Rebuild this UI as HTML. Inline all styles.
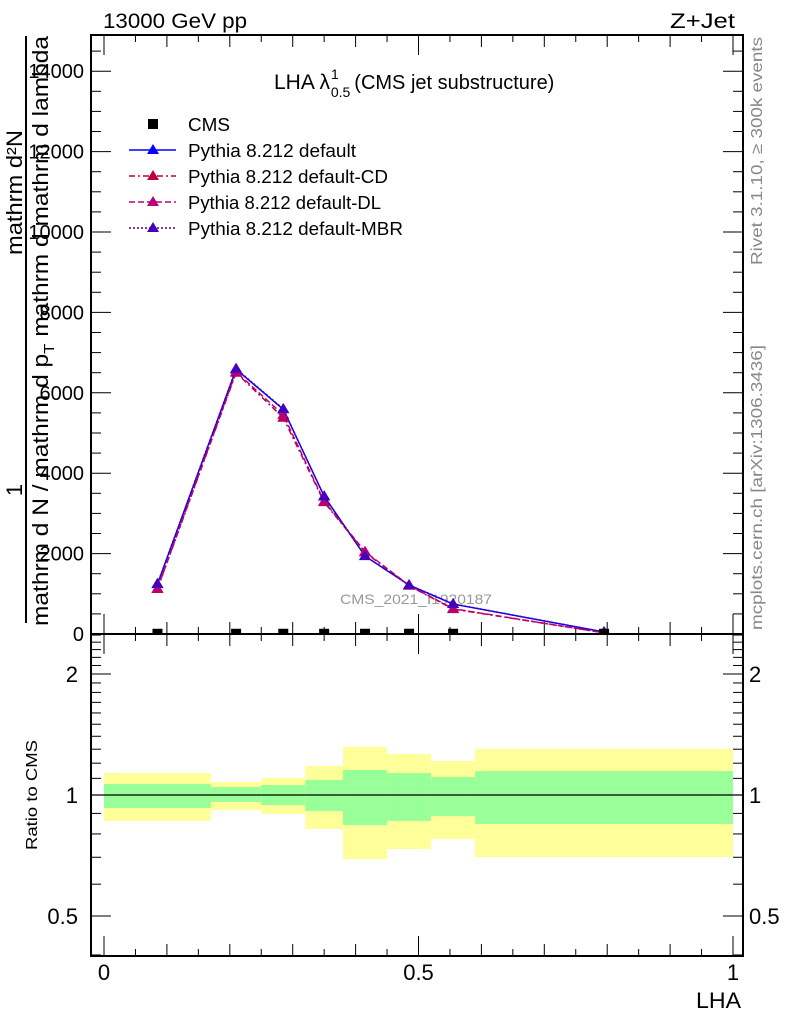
<!DOCTYPE html>
<html><head><meta charset="utf-8"><style>
body{margin:0;background:#fff}
svg{display:block;font-family:"Liberation Sans",sans-serif}
</style></head><body>
<svg id="c" width="786" height="1024" viewBox="0 0 786 1024" xmlns="http://www.w3.org/2000/svg">
<g id="g"></g>
</svg>
<script>
const categories=[0.085,0.21,0.285,0.35,0.415,0.485,0.555,0.795];
const binEdges=[0,0.17,0.25,0.32,0.38,0.45,0.52,0.59,1.0];
const cmsValues=[6,6,6,6,6,6,6,6];
const defaultValues=[1242,6584,5590,3429,1938,1217,745,50];
const cdValues=[1120,6500,5380,3280,2030,1200,620,30];
const dlValues=[1130,6520,5450,3300,2050,1210,630,30];
const mbrValues=[1250,6600,5600,3420,1940,1220,750,50];
const yTicks=[0,2000,4000,6000,8000,10000,12000,14000];
const yellowHi=[1.134,1.077,1.102,1.181,1.317,1.265,1.215,1.302];
const yellowLo=[0.862,0.918,0.897,0.823,0.693,0.734,0.777,0.701];
const greenHi=[1.065,1.047,1.059,1.090,1.154,1.134,1.109,1.147];
const greenLo=[0.928,0.961,0.944,0.912,0.842,0.862,0.886,0.847];
const ratioTicks=[0.5,1,2];
const xTicks=[0,0.5,1];

const NS="http://www.w3.org/2000/svg";
const g=document.getElementById('g');
const L=91,R=743,T=35,MB=634,RB=956;
const X=v=>104+v*629;
const Y=v=>634-v/2000*80.4;
const RY=v=>795-Math.log2(v)*121;
function el(tag,attrs,parent){const e=document.createElementNS(NS,tag);for(const k in attrs)e.setAttribute(k,attrs[k]);(parent||g).appendChild(e);return e;}
function txt(s,attrs,parent){const e=el('text',attrs,parent);e.textContent=s;return e;}

const defs=el('defs',{});
const cp=el('clipPath',{id:'mc'},defs);el('rect',{x:L,y:T,width:R-L,height:MB-T},cp);

let t=txt('13000 GeV pp',{x:103,y:28,'font-size':21,textLength:144,lengthAdjust:'spacingAndGlyphs'});

t=txt('Z+Jet',{x:670,y:28,'font-size':21,textLength:65,lengthAdjust:'spacingAndGlyphs'});


const bands=el('g',{});

for(let i=0;i<categories.length;i++){
  const x0=X(binEdges[i]),x1=X(binEdges[i+1]);
  let r=el('rect',{x:x0,y:RY(yellowHi[i]),width:x1-x0,height:RY(yellowLo[i])-RY(yellowHi[i]),fill:'#ffff99'},bands);
  
  r=el('rect',{x:x0,y:RY(greenHi[i]),width:x1-x0,height:RY(greenLo[i])-RY(greenHi[i]),fill:'#99ff99'},bands);
  
}
let ln=el('line',{x1:L,x2:R,y1:RY(1),y2:RY(1),stroke:'#000','stroke-width':1.2});


let f=el('rect',{x:L,y:T,width:R-L,height:MB-T,fill:'none',stroke:'#000','stroke-width':2});

f=el('rect',{x:L,y:MB,width:R-L,height:RB-MB,fill:'none',stroke:'#000','stroke-width':2});


const axg=el('g',{stroke:'#000','stroke-width':1});
for(let k=0;k<=20;k++){
  const v=k*0.05,x=X(v);const big=(k%10===0)?20:(k%2===0?12:7);
  el('line',{x1:x,x2:x,y1:T,y2:T+big},axg);
  el('line',{x1:x,x2:x,y1:MB,y2:MB-big},axg);
  el('line',{x1:x,x2:x,y1:MB,y2:MB+big},axg);
  el('line',{x1:x,x2:x,y1:RB,y2:RB-big},axg);
}
for(let v=0;v<=14500;v+=500){
  const y=Y(v);if(y<T)continue;const big=(v%2000===0)?20:10;
  el('line',{x1:L,x2:L+big,y1:y,y2:y},axg);
  el('line',{x1:R,x2:R-big,y1:y,y2:y},axg);
}
yTicks.forEach(v=>{const tl=txt(String(v),{x:84,y:Y(v)+7,'font-size':20,'text-anchor':'end'});
});
for(let k=4;k<=25;k++){
  const v=k/10,y=RY(v);if(y<MB||y>RB)continue;const big=ratioTicks.includes(v)?20:10;
  el('line',{x1:L,x2:L+big,y1:y,y2:y},axg);
  el('line',{x1:R,x2:R-big,y1:y,y2:y},axg);
}
ratioTicks.forEach(v=>{
  let tl=txt(String(v),{x:78,y:RY(v)+8,'font-size':22,'text-anchor':'end'});
  
  tl=txt(String(v),{x:749,y:RY(v)+8,'font-size':22});
  
});
xTicks.forEach(v=>{const tl=txt(String(v),{x:X(v),y:980,'font-size':22,'text-anchor':'middle'});
});
t=txt('LHA',{x:696,y:1008,'font-size':22,textLength:45,lengthAdjust:'spacingAndGlyphs'});

t=txt('Ratio to CMS',{x:0,y:0,'font-size':16,textLength:110,lengthAdjust:'spacingAndGlyphs',transform:'translate(37,850) rotate(-90)'});


const yt=el('g',{fill:'#000'});

txt('mathrm d²N',{x:0,y:0,'font-size':22,textLength:125,lengthAdjust:'spacingAndGlyphs',transform:'translate(22,255) rotate(-90)'},yt);
txt('1',{x:0,y:0,'font-size':22,'text-anchor':'middle',transform:'translate(22,490) rotate(-90)'},yt);
el('line',{x1:26,x2:26,y1:36,y2:623,stroke:'#000','stroke-width':2},yt);
const yt2=el('text',{x:0,y:0,'font-size':22,textLength:590,lengthAdjust:'spacingAndGlyphs',transform:'translate(48,626) rotate(-90)'},yt);
yt2.innerHTML='mathrm d N / mathrm d p<tspan font-size="15" dy="6">T</tspan><tspan dy="-6"> mathrm d mathrm d lambda</tspan>';

t=txt('Rivet 3.1.10, ≥ 300k events',{x:0,y:0,'font-size':16,fill:'#888',textLength:228,lengthAdjust:'spacingAndGlyphs',transform:'translate(762,265) rotate(-90)'});

t=txt('mcplots.cern.ch [arXiv:1306.3436]',{x:0,y:0,'font-size':16,fill:'#888',textLength:285,lengthAdjust:'spacingAndGlyphs',transform:'translate(762,630) rotate(-90)'});

t=txt('CMS_2021_I1920187',{x:340,y:604,'font-size':14,fill:'#999',textLength:152,lengthAdjust:'spacingAndGlyphs'});


const ti=el('text',{x:274,y:89,'font-size':21});

ti.innerHTML='LHA λ<tspan font-size="14" dy="-10" dx="1">1</tspan><tspan font-size="14" dy="18" dx="-8">0.5</tspan><tspan font-size="20" dy="-8" dx="4">(CMS jet substructure)</tspan>';

const series=[
 {name:'default',vals:defaultValues,color:'#0000ff',dash:'',label:'Pythia 8.212 default'},
 {name:'cd',vals:cdValues,color:'#bb0044',dash:'6,3,2,3',label:'Pythia 8.212 default-CD'},
 {name:'dl',vals:dlValues,color:'#bb0077',dash:'6,3',label:'Pythia 8.212 default-DL'},
 {name:'mbr',vals:mbrValues,color:'#4400bb',dash:'2,2',label:'Pythia 8.212 default-MBR'}
];
function tri(x,y,c,parent){return el('path',{d:`M${x},${y-6}L${x+6},${y+4}L${x-6},${y+4}Z`,fill:c},parent);}
const plot=el('g',{'clip-path':'url(#mc)'});
series.forEach(s=>{
  const sg=el('g',{},plot);
  
  const pts=s.vals.map((v,i)=>X(categories[i])+','+Y(v)).join(' ');
  const pl=el('polyline',{points:pts,fill:'none',stroke:s.color,'stroke-width':1.5,'stroke-dasharray':s.dash},sg);
  
  s.vals.forEach((v,i)=>{const m=tri(X(categories[i]),Y(v),s.color,sg);
    });
});
const cg=el('g',{},plot);

cmsValues.forEach((v,i)=>{const r=el('rect',{x:X(categories[i])-5,y:Y(v)-5,width:10,height:10,fill:'#000'},cg);
  });

const lg=el('g',{});

let le=el('g',{},lg);
el('rect',{x:148,y:119,width:10,height:10,fill:'#000'},le);
txt('CMS',{x:188,y:131,'font-size':18,textLength:42,lengthAdjust:'spacingAndGlyphs'},le);
const legendWidths=[168,200,193,215];
series.forEach((s,i)=>{
  const y=150+i*26;
  const e=el('g',{},lg);
  el('line',{x1:129,x2:176,y1:y,y2:y,stroke:s.color,'stroke-width':1.5,'stroke-dasharray':s.dash},e);
  tri(153,y,s.color,e);
  txt(s.label,{x:188,y:y+7,'font-size':18,textLength:legendWidths[i],lengthAdjust:'spacingAndGlyphs'},e);
});
</script>
</body></html>
